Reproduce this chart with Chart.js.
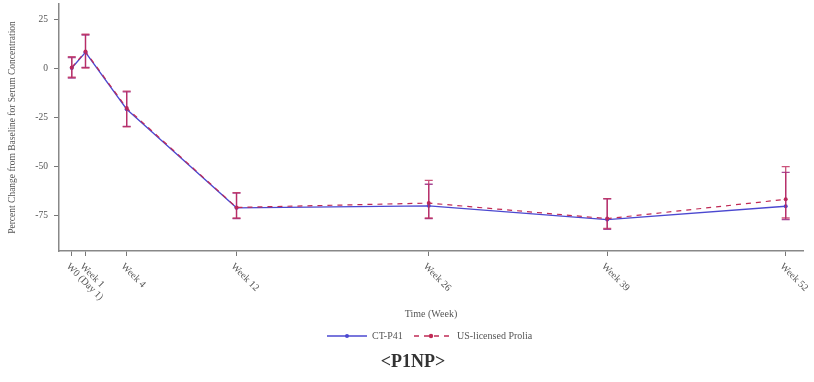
<!DOCTYPE html>
<html>
<head>
<meta charset="utf-8">
<script src="https://cdn.jsdelivr.net/npm/chart.js@4/dist/chart.umd.min.js"></script>
<style>
  html, body { margin: 0; padding: 0; background: #ffffff; }
  #wrap { width: 814px; height: 382px; position: relative; }
</style>
</head>
<body>
<div id="wrap"><canvas id="c"></canvas></div>
<script>
// Visit weeks and their axis labels
const weeks = [0, 1, 4, 12, 26, 39, 52];
const weekLabels = ['W0 (Day 1)', 'Week 1', 'Week 4', 'Week 12', 'Week 26', 'Week 39', 'Week 52'];
const yTickValues = [25, 0, -25, -50, -75];

// CT-P41: mean percent change with lower / upper error limits
const ctp41Mean  = [0.2, 8.2, -20.8, -71.0, -70.0, -77.0, -70.2];
const ctp41Lower = [-5, 0.5, -29.5, -76.5, -76.5, -82, -77];
const ctp41Upper = [5.5, 17, -12, -63.5, -59, -66.5, -53];

// US-licensed Prolia: mean percent change with lower / upper error limits
const proliaMean  = [0.5, 8.6, -20.2, -70.8, -68.6, -76.5, -66.7];
const proliaLower = [-4.5, 0.2, -29.8, -76.2, -76.2, -81.5, -76.2];
const proliaUpper = [6, 17.4, -11.6, -63.3, -57, -66.3, -50];

const BLUE = '#4b48d0';
const RED = '#c02a55';
const TEXT = '#555555';
const SERIF = '"Liberation Serif", "DejaVu Serif", serif';

function toPoints(means) {
  return weeks.map((w, i) => ({ x: w, y: means[i] }));
}

// Vertical error bars with caps, drawn per dataset through the chart scales
const errorBars = {
  id: 'errorBars',
  afterDatasetsDraw(chart) {
    const { ctx, scales: { x, y } } = chart;
    const sets = [
      { lo: ctp41Lower, hi: ctp41Upper, color: 'rgba(150,40,130,0.85)' },
      { lo: proliaLower, hi: proliaUpper, color: 'rgba(190,40,90,0.8)' }
    ];
    ctx.save();
    ctx.lineWidth = 1.3;
    sets.forEach(s => {
      ctx.strokeStyle = s.color;
      weeks.forEach((w, i) => {
        const px = x.getPixelForValue(w);
        const yl = y.getPixelForValue(s.lo[i]);
        const yh = y.getPixelForValue(s.hi[i]);
        ctx.beginPath();
        ctx.moveTo(px, yl); ctx.lineTo(px, yh);
        ctx.moveTo(px - 4, yl); ctx.lineTo(px + 4, yl);
        ctx.moveTo(px - 4, yh); ctx.lineTo(px + 4, yh);
        ctx.stroke();
      });
    });
    ctx.restore();
  }
};

// Slanted week labels, axis title, legend and panel title below the plot
const annotations = {
  id: 'annotations',
  afterDraw(chart) {
    const { ctx, scales: { x }, chartArea } = chart;
    ctx.save();
    ctx.fillStyle = TEXT;
    ctx.font = '10px ' + SERIF;
    ctx.textAlign = 'left';
    ctx.textBaseline = 'middle';
    weeks.forEach((w, i) => {
      const px = x.getPixelForValue(w);
      ctx.save();
      ctx.translate(px - 4, chartArea.bottom + 14);
      ctx.rotate(Math.PI / 4);
      ctx.fillText(weekLabels[i], 0, 0);
      ctx.restore();
    });

    // x-axis title
    ctx.textAlign = 'center';
    ctx.fillText('Time (Week)', (chartArea.left + chartArea.right) / 2, 314);

    // legend
    const ly = 336;
    ctx.lineWidth = 1.3;
    ctx.strokeStyle = BLUE;
    ctx.beginPath(); ctx.moveTo(327, ly); ctx.lineTo(367, ly); ctx.stroke();
    ctx.fillStyle = BLUE;
    ctx.beginPath(); ctx.arc(347, ly, 2, 0, Math.PI * 2); ctx.fill();
    ctx.fillStyle = TEXT;
    ctx.textAlign = 'left';
    ctx.fillText('CT-P41', 372, ly);

    ctx.strokeStyle = RED;
    ctx.setLineDash([5, 5]);
    ctx.beginPath(); ctx.moveTo(414, ly); ctx.lineTo(449, ly); ctx.stroke();
    ctx.setLineDash([]);
    ctx.fillStyle = RED;
    ctx.beginPath(); ctx.arc(431, ly, 2.2, 0, Math.PI * 2); ctx.fill();
    ctx.fillStyle = TEXT;
    ctx.fillText('US-licensed Prolia', 457, ly);

    // panel title
    ctx.textAlign = 'center';
    ctx.font = 'bold 18px ' + SERIF;
    ctx.fillStyle = '#333333';
    ctx.fillText('<P1NP>', 413, 362);
    ctx.restore();
  }
};

new Chart(document.getElementById('c'), {
  type: 'line',
  data: {
    datasets: [
      {
        label: 'CT-P41',
        data: toPoints(ctp41Mean),
        borderColor: BLUE,
        backgroundColor: BLUE,
        borderWidth: 1.3,
        pointRadius: 2,
        pointBorderWidth: 0,
        tension: 0,
        order: 1
      },
      {
        label: 'US-licensed Prolia',
        data: toPoints(proliaMean),
        borderColor: RED,
        backgroundColor: RED,
        borderWidth: 1.2,
        borderDash: [5, 5],
        pointRadius: 2,
        pointBorderWidth: 0,
        tension: 0,
        order: 0
      }
    ]
  },
  options: {
    responsive: true,
    maintainAspectRatio: false,
    animation: false,
    devicePixelRatio: 1,
    layout: { padding: { left: 0, top: 2, right: 11, bottom: 0 } },
    plugins: {
      legend: { display: false },
      tooltip: { enabled: false },
      title: { display: false }
    },
    scales: {
      x: {
        type: 'linear',
        min: -0.93,
        max: 53.26,
        afterBuildTicks(scale) { scale.ticks = weeks.map(v => ({ value: v })); },
        afterFit(scale) { scale.height = 131; scale.paddingLeft = 0; scale.paddingRight = 0; },
        ticks: { display: false },
        grid: { drawOnChartArea: false, drawTicks: true, tickLength: 5, color: '#777777', lineWidth: 1 },
        border: { display: true, color: '#888888', width: 1.5 }
      },
      y: {
        type: 'linear',
        min: -93,
        max: 32.8,
        afterBuildTicks(scale) { scale.ticks = yTickValues.map(v => ({ value: v })); },
        afterFit(scale) { scale.width = 59; scale.paddingTop = 0; scale.paddingBottom = 0; },
        ticks: {
          padding: 6,
          color: TEXT,
          font: { family: SERIF, size: 9.5 }
        },
        grid: { drawOnChartArea: false, drawTicks: true, tickLength: 5, color: '#777777', lineWidth: 1 },
        border: { display: true, color: '#888888', width: 1.5 },
        title: {
          display: true,
          text: 'Percent Change from Baseline for Serum Concentration',
          color: TEXT,
          font: { family: SERIF, size: 9.5 },
          padding: { top: 7, bottom: 0 }
        }
      }
    }
  },
  plugins: [errorBars, annotations]
});
</script>
</body>
</html>
